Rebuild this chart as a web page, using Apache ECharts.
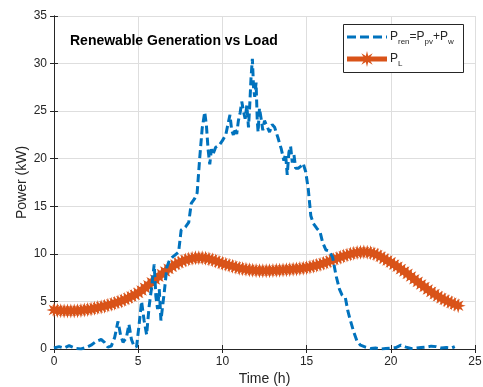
<!DOCTYPE html>
<html><head><meta charset="utf-8">
<script src="https://cdn.jsdelivr.net/npm/echarts@6/dist/echarts.min.js"></script>
<style>html,body{margin:0;padding:0;background:#fff}#c{width:483px;height:387px}</style>
</head><body><div id="c"></div>
<script>
// P_L sampled every 0.2 h
var loadStep = 0.2;
var loadVals = [4.10,4.05,4.02,4.00,4.00,4.00,4.00,4.02,4.05,4.10,4.15,4.20,4.27,4.35,4.42,4.50,4.60,4.70,4.82,4.93,
5.05,5.20,5.35,5.52,5.70,5.90,6.15,6.42,6.70,7.00,7.30,7.60,7.88,8.15,8.42,8.65,8.87,9.05,9.20,9.35,
9.45,9.53,9.58,9.60,9.58,9.55,9.47,9.37,9.25,9.12,9.00,8.90,8.80,8.70,8.60,8.50,8.43,8.37,8.32,8.28,
8.25,8.23,8.22,8.22,8.23,8.25,8.27,8.29,8.31,8.33,8.36,8.39,8.42,8.46,8.50,8.55,8.62,8.70,8.79,8.89,
9.00,9.12,9.25,9.38,9.52,9.65,9.77,9.88,9.98,10.07,10.14,10.18,10.20,10.18,10.12,10.02,9.88,9.70,9.50,9.30,
9.10,8.88,8.65,8.40,8.15,7.90,7.62,7.33,7.05,6.78,6.52,6.25,6.00,5.77,5.55,5.35,5.17,5.00,4.85,4.70,4.55];
// P_ren = P_pv + P_w
var renTime = [0,0.3,0.6,0.9,1.1,1.3,1.6,1.9,2.2,2.5,2.8,3.0,3.2,3.4,3.6,3.8,3.95,4.1,4.3,4.45,4.6,4.75,
4.9,5.05,5.2,5.35,5.5,5.65,5.8,5.95,6.05,6.15,6.25,6.35,6.45,6.55,6.7,6.85,7.0,7.2,7.4,7.55,7.8,8.0,8.15,8.35,8.5,8.65,8.8,8.95,
9.05,9.15,9.25,9.35,9.45,9.6,9.8,10.0,10.2,10.35,10.45,10.55,10.65,10.75,10.85,10.95,11.05,11.15,11.25,11.35,11.45,11.55,11.62,11.7,11.78,11.85,11.92,
12.0,12.07,12.12,12.2,12.3,12.4,12.5,12.65,12.8,12.95,13.1,13.3,13.5,13.65,13.75,13.85,13.95,14.05,14.15,14.25,14.35,14.5,14.65,14.8,14.95,
15.1,15.25,15.4,15.6,15.8,15.95,16.15,16.35,16.55,16.75,16.95,17.1,17.3,17.45,17.6,17.8,18.0,18.2,18.5,18.8,19.1,19.4,19.7,20.0,20.3,20.6,20.9,
21.2,21.5,21.8,22.1,22.4,22.7,23.0,23.3,23.6,23.8];
var renVals = [0.1,0.25,0.1,0.35,0.2,0.05,0.0,0.15,0.4,0.8,1.0,0.7,0.2,0.3,1.2,2.9,1.5,0.7,1.2,2.6,1.0,0.3,
0.2,2.5,5.0,3.0,1.5,4.5,6.5,8.9,5.5,4.2,6.3,3.0,4.5,6.0,8.6,9.3,9.6,9.9,10.2,12.5,12.8,13.3,15.3,15.8,16.4,20.0,23.2,24.9,
23.5,21.0,19.4,21.0,20.5,21.2,21.4,21.9,22.5,23.8,24.6,23.0,22.5,23.2,22.6,24.0,24.8,26.0,25.0,24.2,25.6,23.3,25.5,28.5,30.5,27.5,26.5,
28.0,24.0,22.8,25.3,24.2,23.0,24.0,23.4,22.8,23.6,23.3,22.2,21.0,19.8,20.5,18.3,20.7,21.3,19.6,20.4,19.0,19.0,19.2,19.5,18.6,
16.8,14.0,13.2,12.7,12.3,11.2,10.4,10.3,9.6,7.7,6.3,5.7,5.4,4.0,3.0,1.8,0.8,0.4,0.2,0.05,0.1,0.0,0.05,0.1,0.15,0.4,0.2,
0.05,0.1,0.15,0.2,0.3,0.25,0.1,0.15,0.1,0.25];
var xTicks = [0,5,10,15,20,25];
var yTicks = [0,5,10,15,20,25,30,35];

var loadData = loadVals.map(function(v,i){return [+(i*loadStep).toFixed(2), v];});
var renData = renTime.map(function(t,i){return [t, renVals[i]];});

// asterisk-like star shape
function starPts(cx,cy,R,ri){var p=[];for(var k=0;k<16;k++){var a=Math.PI/2+k*Math.PI/8;var r=(k%2===0)?R:R*ri;p.push([cx+r*Math.cos(a),cy-r*Math.sin(a)]);}return p;}
var sp=starPts(50,50,50,0.45);
var starPath='path://M'+sp.map(function(q){return q[0].toFixed(2)+','+q[1].toFixed(2);}).join('L')+'Z';

var font='"Liberation Sans", Arial, Helvetica, sans-serif';
var txt='#262626';
var blue='#0072BD', orange='#D95319';
var chart = echarts.init(document.getElementById('c'), null, {renderer:'canvas'});
var aLine={show:true,lineStyle:{color:txt,width:1}};
var aTick={show:true,inside:true,length:4,lineStyle:{color:txt}};
chart.setOption({
  animation:false,
  backgroundColor:'#fff',
  grid:{left:54,right:8,top:16,bottom:38,containLabel:false,outerBoundsMode:'none'},
  title:{text:'Renewable Generation vs Load',left:65,top:29,textStyle:{fontFamily:font,fontSize:14,fontWeight:'bold',color:'#000'}},
  xAxis:[
    {type:'value',min:0,max:25,interval:5,position:'bottom',
      name:'Time (h)',nameLocation:'middle',nameGap:23,nameMoveOverlap:false,nameTextStyle:{fontFamily:font,fontSize:14,color:txt},
      axisLabel:{fontFamily:font,fontSize:12,color:txt,margin:7},
      axisLine:aLine,axisTick:aTick,
      splitLine:{show:true,lineStyle:{color:'#dedede',width:1}}},
    {type:'value',min:0,max:25,interval:5,position:'top',axisLabel:{show:false},splitLine:{show:false},axisLine:aLine,axisTick:aTick}
  ],
  yAxis:[
    {type:'value',min:0,max:35,interval:5,position:'left',
      name:'Power (kW)',nameLocation:'middle',nameGap:25,nameMoveOverlap:false,nameTextStyle:{fontFamily:font,fontSize:14,color:txt},
      axisLabel:{fontFamily:font,fontSize:12,color:txt,margin:7},
      axisLine:aLine,axisTick:aTick,
      splitLine:{show:true,lineStyle:{color:'#dedede',width:1}}},
    {type:'value',min:0,max:35,interval:5,position:'right',axisLabel:{show:false},splitLine:{show:false},axisLine:aLine,axisTick:aTick}
  ],
  series:[
    {name:'ren',type:'line',data:renData,z:3,showSymbol:false,symbol:'none',
     lineStyle:{color:blue,width:3,type:[8,4]},itemStyle:{color:blue}},
    {name:'load',type:'line',data:loadData,z:2,symbol:starPath,symbolSize:15,showSymbol:true,
     lineStyle:{color:orange,width:4},itemStyle:{color:orange,borderWidth:0}}
  ],
  graphic:[
    {type:'rect',z:100,shape:{x:343.5,y:24.5,width:120,height:48},style:{fill:'#fff',stroke:txt,lineWidth:1}},
    {type:'line',z:101,shape:{x1:347,y1:37,x2:387,y2:37},style:{stroke:blue,lineWidth:3,lineDash:[9,4]}},
    {type:'text',z:101,x:390,y:37,style:{text:'{m|P}{s|ren}{m|=P}{s|pv}{m|+P}{s|w}',verticalAlign:'middle',fill:txt,
      rich:{m:{fontSize:12,fontFamily:font,fill:txt},s:{fontSize:8,fontFamily:font,fill:txt,padding:[9,0,0,0]}}}},
    {type:'line',z:101,shape:{x1:347,y1:59,x2:387,y2:59},style:{stroke:orange,lineWidth:5}},
    {type:'polygon',z:102,shape:{points:starPts(367,59,8,0.4)},style:{fill:orange}},
    {type:'text',z:101,x:390,y:59,style:{text:'{m|P}{s|L}',verticalAlign:'middle',fill:txt,
      rich:{m:{fontSize:12,fontFamily:font,fill:txt},s:{fontSize:8,fontFamily:font,fill:txt,padding:[9,0,0,0]}}}}
  ]
});
</script></body></html>
